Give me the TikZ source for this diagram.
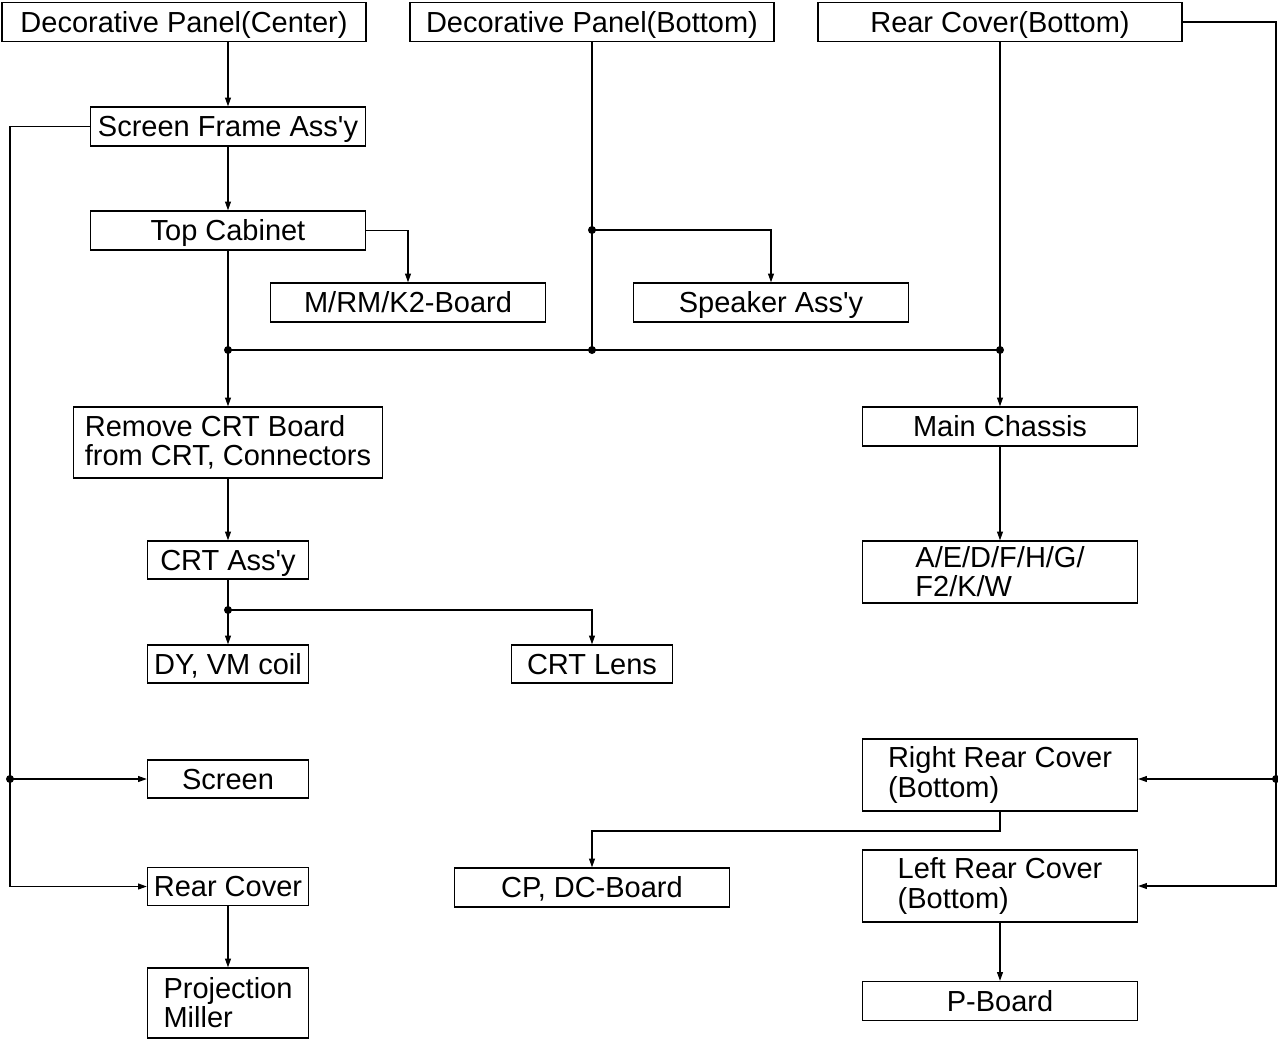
\documentclass[tikz,border=0pt]{standalone}
\usepackage{fontspec}
\setmainfont{Liberation Sans}
\usetikzlibrary{arrows.meta}

\tikzset{
  part/.style={draw, line width=0.8pt, inner sep=0pt, align=left,
    font=\fontsize{16.5}{16.6}\selectfont},
  oneline/.style={part, text height=11.8pt, text depth=0pt},
  wide/.style={oneline, minimum width=7.28cm, minimum height=0.78cm},
  mid/.style={oneline, minimum width=5.5cm, minimum height=0.78cm},
  small/.style={oneline, minimum width=3.22cm, minimum height=0.76cm},
  link/.style={line width=0.6pt},
  dot/.style={circle, fill, inner sep=0pt, minimum size=0.16cm}
}
\newcommand{\q}{\textquotesingle}

\begin{document}
\begin{tikzpicture}[x=0.02cm, y=-0.02cm, >={Triangle[length=5pt,width=3.4pt]}, line join=miter]
		
		\useasboundingbox (0,0) rectangle (1278,1039);
		
		% top row
		\node[wide] (dpc) at (184,22) {Decorative Panel(Center)};
		\node[wide] (dpb) at (592,22) {Decorative Panel(Bottom)};
		\node[wide] (rcb) at (1000,22) {Rear Cover(Bottom)};
		
		% left column
		\node[mid] (sfa) at (228,126.5) {Screen Frame Ass\q y};
		\node[mid] (tcab) at (228,230.5) {Top Cabinet};
		\node[mid] (mrm) at (408,302.5) {M/RM/K2-Board};
		\node[mid] (spk) at (771,302.5) {Speaker Ass\q y};
		\node[part, minimum width=6.18cm, minimum height=1.42cm] (rcrt) at (228,442.5) {Remove CRT Board\\from CRT, Connectors};
		\node[small] (crt) at (228,560) {CRT Ass\q y};
		\node[small] (dy) at (228,664) {DY, VM coil};
		\node[small] (lens) at (592,664) {CRT Lens};
		\node[small] (scr) at (228,779) {Screen};
		\node[small] (rcov) at (228,886.5) {Rear Cover};
		\node[part, minimum width=3.22cm, minimum height=1.4cm] (pm) at (228,1003) {Projection\\Miller};
		
		% right column
		\node[mid] (mch) at (1000,426.5) {Main Chassis};
		\node[part, minimum width=5.5cm, minimum height=1.24cm] (boards) at (1000,572) {A/E/D/F/H/G/\\F2/K/W};
		\node[part, minimum width=5.5cm, minimum height=1.44cm] (rrc) at (1000,775) {Right Rear Cover\\(Bottom)};
		\node[mid] (cpdc) at (592,887.5) {CP, DC-Board};
		\node[part, minimum width=5.5cm, minimum height=1.44cm] (lrc) at (1000,886) {Left Rear Cover\\(Bottom)};
		\node[mid] (pb) at (1000,1001) {P-Board};
		
		% junctions
		\coordinate (ja) at (228,350);
		\coordinate (jb) at (592,350);
		\coordinate (jc) at (1000,350);
		\coordinate (jd) at (592,230);
		\coordinate (je) at (228,610);
		\coordinate (jf) at (592,831);
		\coordinate (lm) at (10,779);
		\coordinate (lb) at (10,886.5);
		\coordinate (rm) at (1276,779);
		\coordinate (rb) at (1276,886);
		
		% connectors
		\draw[link,->] (sfa |- dpc.south) -- (sfa.north);
		\draw[link,->] (sfa) -- (tcab.north);
		\draw[link,->] (tcab.east) -| (mrm.north);
		\draw[link] (tcab.south) -- (ja);
		\draw[link,->] (ja) -- (rcrt.north);
		\draw[link] (dpb.south) -- (jb);
		\draw[link,->] (jd) -| (spk.north);
		\draw[link] (ja) -- (jc);
		\draw[link] (rcb.south) -- (jc);
		\draw[link,->] (jc) -- (mch.north);
		\draw[link,->] (mch.south) -- (boards.north);
		\draw[link,->] (rcrt.south) -- (crt.north);
		\draw[link] (crt.south) -- (je);
		\draw[link,->] (je) -- (dy.north);
		\draw[link,->] (je) -| (lens.north);
		\draw[link,->] (sfa.west) -| (lb) -- (rcov.west);
		\draw[link,->] (lm) -- (scr.west);
		\draw[link,->] (rcov.south) -- (pm.north);
		\draw[link,->] (rcb.east) -| (rb) -- (lrc.east);
		\draw[link,->] (rm) -- (rm -| rrc.east);
		\draw[link,->] (rrc.south) |- (jf) -- (cpdc.north);
		\draw[link,->] (lrc.south) -- (pb.north);
		
		% dots
		\foreach \j in {ja,jb,jc,jd,je,lm,rm}
			\node[dot] at (\j) {};
		
	\end{tikzpicture}
\end{document}
